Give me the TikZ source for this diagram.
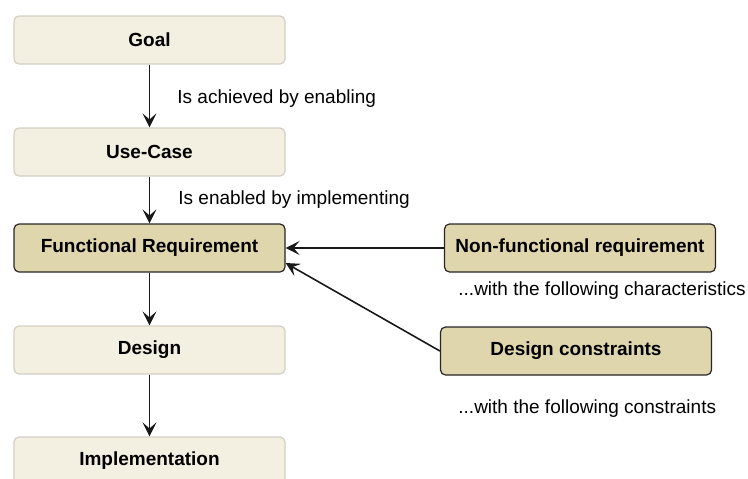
\documentclass[tikz,border=0pt]{standalone}
\usepackage{fontspec}
\setmainfont{Liberation Sans}
\usetikzlibrary{arrows.meta}

\definecolor{palefill}{HTML}{F3EFE1}
\definecolor{paleline}{HTML}{D3CFC4}
\definecolor{darkfill}{HTML}{DFD6AD}

\tikzset{
  lightbox/.style={draw=paleline,fill=palefill,line width=0.6pt,rounded corners=2.5pt,
    minimum width=135.5pt,minimum height=24pt,inner sep=0pt,
    font=\fontsize{9.5}{11}\selectfont\bfseries},
  darkbox/.style={lightbox,draw=black!85,fill=darkfill},
  linktext/.style={anchor=west,inner sep=0pt,font=\fontsize{9.5}{11}\selectfont},
  link/.style={-{Stealth[length=7pt,width=7pt,inset=3pt]},line width=0.8pt,black!90}
}

\begin{document}
\begin{tikzpicture}[x=0.5pt,y=-0.5pt]

  \useasboundingbox (0,0) rectangle (748,478);

  % main chain
  \node[lightbox] (goal) at (149.5,40) {Goal};
  \node[lightbox] (uc)   at (149.5,152) {Use-Case};
  \node[darkbox]  (fr)   at (149.5,248) {Functional Requirement};
  \node[lightbox] (des)  at (149.5,350) {Design};
  \node[lightbox] (impl) at (149.5,461) {Implementation};

  % side boxes
  \node[darkbox] (nfr) at (580,248) {Non-functional requirement};
  \node[darkbox] (dc)  at (576,351) {Design constraints};

  \node[linktext] (achv) at (177,99)  {Is achieved by enabling};
  \node[linktext] (enbl) at (178,200) {Is enabled by implementing};
  \node[linktext] (chr)  at (458,291) {...with the following characteristics};
  \node[linktext] (cns)  at (458,409) {...with the following constraints};

  \draw[link] (goal) -- (uc);
  \draw[link] (uc) -- (fr);
  \draw[link] (fr) -- (des);
  \draw[link] (des) -- (impl);
  \draw[link] (nfr.west) -- (fr.east);
  \draw[link] (dc.west) -- ([yshift=-7.5pt]fr.east);

\end{tikzpicture}
\end{document}
